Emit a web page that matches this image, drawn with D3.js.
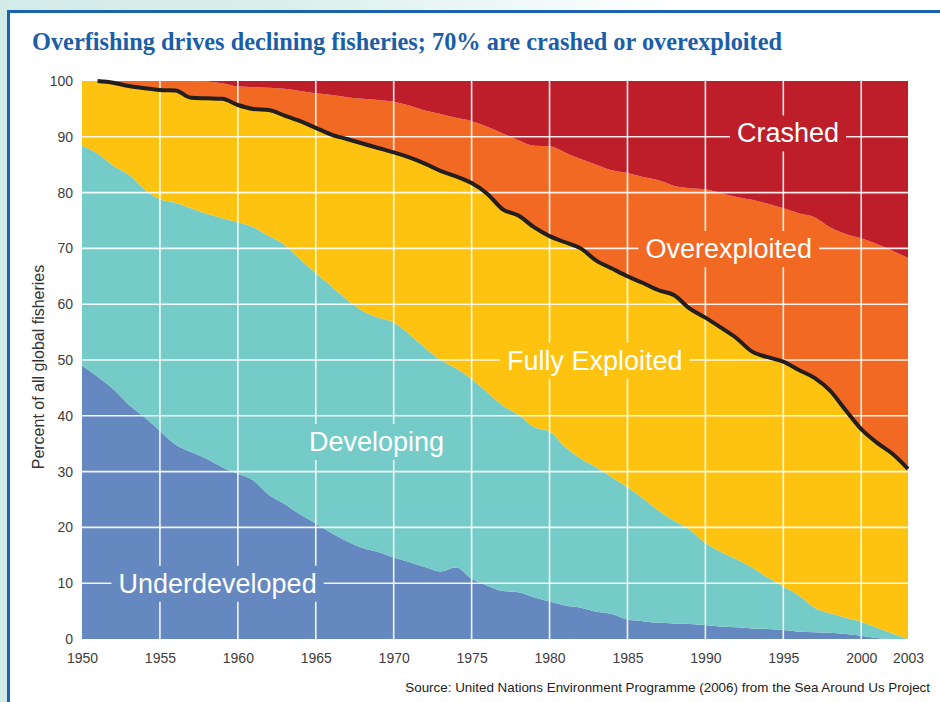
<!DOCTYPE html>
<html>
<head>
<meta charset="utf-8">
<script src="https://cdn.jsdelivr.net/npm/d3@7"></script>
<style>
  body { margin: 0; background: #fff; }
  svg { display: block; }
</style>
</head>
<body>
<div class="chart"></div>
<script>
// values, percent of all global fisheries per year
const years = [1950, 1951, 1952, 1953, 1954, 1955, 1956, 1957, 1958, 1959,
  1960, 1961, 1962, 1963, 1964, 1965, 1966, 1967, 1968, 1969,
  1970, 1971, 1972, 1973, 1974, 1975, 1976, 1977, 1978, 1979,
  1980, 1981, 1982, 1983, 1984, 1985, 1986, 1987, 1988, 1989,
  1990, 1991, 1992, 1993, 1994, 1995, 1996, 1997, 1998, 1999,
  2000, 2001, 2002, 2003]

const underdeveloped = [49, 47.0, 44.8, 42.0, 39.8, 37.3, 34.8, 33.5, 32.3, 30.8,
  29.6, 28.4, 25.8, 24.2, 22.3, 20.7, 19.0, 17.5, 16.3, 15.6,
  14.6, 13.8, 12.9, 12.1, 12.8, 10.8, 9.6, 8.6, 8.4, 7.5,
  6.7, 6.0, 5.6, 4.9, 4.5, 3.5, 3.2, 2.9, 2.8, 2.7,
  2.5, 2.2, 2.1, 1.9, 1.8, 1.6, 1.3, 1.2, 1.1, 0.9,
  0.6, 0.2, 0, 0]

const developing = [39.4, 40.0, 40.0, 41.2, 40.8, 41.5, 43.4, 43.7, 43.9, 44.6,
  45.1, 45.4, 46.4, 46.4, 45.7, 44.9, 44.2, 43.3, 42.5, 42.0,
  42.1, 40.8, 39.3, 37.9, 35.7, 35.8, 34.6, 33.2, 31.8, 30.5,
  30.5, 28.4, 26.7, 25.9, 24.5, 23.7, 22.0, 20.1, 18.4, 16.9,
  14.7, 13.4, 12.2, 10.9, 9.2, 7.8, 6.5, 4.4, 3.5, 2.9,
  2.5, 1.8, 1.0, 0]

const fullyExploited = [11.6, 13.0, 14.9, 15.9, 18.1, 19.6, 20.1, 19.8, 20.7, 21.4,
  21.0, 21.2, 22.6, 23.2, 24.8, 26.0, 27.2, 28.8, 30.0, 30.4,
  30.5, 31.7, 33.0, 33.9, 34.4, 35.1, 35.6, 35.2, 35.7, 35.8,
  35.0, 36.7, 37.7, 37.0, 37.4, 37.8, 38.6, 39.5, 40.4, 39.6,
  40.4, 40.2, 39.6, 38.7, 39.5, 40.3, 40.4, 41.2, 39.9, 37.2,
  34.5, 33.2, 32.2, 30.5]

const overexploited = [0, 0, 0.3, 0.9, 1.3, 1.6, 1.7, 3.0, 3.0, 2.8,
  3.3, 3.9, 4.0, 4.8, 5.4, 6.2, 7.1, 7.5, 8.0, 8.6,
  9.1, 9.3, 9.5, 10.2, 10.5, 11.1, 12.0, 13.6, 13.5, 14.6,
  16.1, 16.1, 16.0, 17.2, 17.6, 18.5, 19.0, 19.7, 19.6, 21.6,
  23.0, 24.1, 25.3, 27.2, 27.5, 27.5, 28.1, 28.8, 29.3, 31.6,
  34.2, 35.6, 36.4, 37.8]

const crashed = [0, 0, 0, 0, 0, 0, 0, 0, 0.1, 0.4,
  1.0, 1.1, 1.2, 1.4, 1.8, 2.2, 2.5, 2.9, 3.2, 3.4,
  3.7, 4.4, 5.3, 5.9, 6.6, 7.2, 8.2, 9.4, 10.6, 11.6,
  11.7, 12.8, 14.0, 15.0, 16.0, 16.5, 17.2, 17.8, 18.8, 19.2,
  19.4, 20.1, 20.8, 21.3, 22.0, 22.8, 23.7, 24.4, 26.2, 27.4,
  28.2, 29.2, 30.4, 31.7]

const keys = ['Underdeveloped', 'Developing', 'Fully Exploited', 'Overexploited', 'Crashed']
const xTicks = [1950, 1955, 1960, 1965, 1970, 1975, 1980, 1985, 1990, 1995, 2000, 2003]
const yTicks = [0, 10, 20, 30, 40, 50, 60, 70, 80, 90, 100]

// where each band name sits: [year, percent]
const labelSpots = {
  'Underdeveloped': [1958.7, 10],
  'Developing': [1968.9, 35.4],
  'Fully Exploited': [1982.9, 50],
  'Overexploited': [1991.5, 70],
  'Crashed': [1995.3, 90.7]
}

const colors = {
  'Underdeveloped': '#6688c0',
  'Developing': '#75cbc8',
  'Fully Exploited': '#fec211',
  'Overexploited': '#f26923',
  'Crashed': '#bd1e2a'
}

const table = years.map((yr, i) => ({
  year: yr,
  'Underdeveloped': underdeveloped[i],
  'Developing': developing[i],
  'Fully Exploited': fullyExploited[i],
  'Overexploited': overexploited[i],
  'Crashed': crashed[i]
}))

const W = 940, H = 702
const plot = { left: 82, right: 908, top: 81, bottom: 639 }

const svg = d3.select('.chart').append('svg')
  .attr('width', W)
  .attr('height', H)

const defs = svg.append('defs')

// frame: pale teal margin, fading out along the top, with a blue rule
const fade = defs.append('linearGradient').attr('id', 'fade')
fade.append('stop').attr('offset', '0').attr('stop-color', '#d3ebe8')
fade.append('stop').attr('offset', '0.3').attr('stop-color', '#d9efec')
fade.append('stop').attr('offset', '0.72').attr('stop-color', '#ffffff')

svg.append('rect').attr('width', W).attr('height', H).attr('fill', '#fff')
svg.append('rect').attr('width', W).attr('height', 11).attr('fill', 'url(#fade)')
svg.append('rect').attr('width', 8).attr('height', H).attr('fill', '#d3ebe8')
svg.append('path')
  .attr('d', `M8.5,${H} V11.5 H${W}`)
  .attr('fill', 'none')
  .attr('stroke', '#1a63ad')
  .attr('stroke-width', 3)

svg.append('text')
  .attr('x', 32)
  .attr('y', 50)
  .attr('textLength', 750)
  .attr('lengthAdjust', 'spacingAndGlyphs')
  .style('font-family', '"Liberation Serif", "DejaVu Serif", serif')
  .style('font-weight', 'bold')
  .style('font-size', '25px')
  .attr('fill', '#1b5ea7')
  .text('Overfishing drives declining fisheries; 70% are crashed or overexploited')

const x = d3.scaleLinear().domain([1950, 2003]).range([plot.left, plot.right])
const y = d3.scaleLinear().domain([0, 100]).range([plot.bottom, plot.top])

const series = d3.stack().keys(keys)(table)

const area = d3.area()
  .x((d) => x(d.data.year))
  .y0((d) => y(d[0]))
  .y1((d) => y(d[1]))
  .curve(d3.curveMonotoneX)

svg.append('g')
  .selectAll('path')
  .data(series)
  .join('path')
  .attr('fill', (d) => colors[d.key])
  .attr('d', area)

// grid, cut open where the band names sit
const mask = defs.append('mask')
  .attr('id', 'gridMask')
  .attr('maskUnits', 'userSpaceOnUse')
  .attr('x', 0).attr('y', 0).attr('width', W).attr('height', H)
mask.append('rect').attr('width', W).attr('height', H).attr('fill', '#fff')

const grid = svg.append('g')
  .attr('mask', 'url(#gridMask)')
  .attr('stroke', '#fff')
  .attr('stroke-opacity', 0.9)
  .attr('stroke-width', 1.6)

grid.selectAll('.hgrid')
  .data(yTicks.filter((v) => v > 0 && v < 100))
  .join('line')
  .attr('class', 'hgrid')
  .attr('x1', plot.left).attr('x2', plot.right)
  .attr('y1', (d) => y(d)).attr('y2', (d) => y(d))

grid.selectAll('.vgrid')
  .data(xTicks.filter((v) => v % 5 === 0 && v > 1950))
  .join('line')
  .attr('class', 'vgrid')
  .attr('x1', (d) => x(d)).attr('x2', (d) => x(d))
  .attr('y1', plot.top).attr('y2', plot.bottom)

// black line along the top of the fully exploited band (it leaves the top edge after 1951)
const fullTop = series[2]
svg.append('path')
  .datum(fullTop)
  .attr('fill', 'none')
  .attr('stroke', '#231f20')
  .attr('stroke-width', 4)
  .attr('stroke-linejoin', 'round')
  .attr('d', d3.line()
    .defined((d) => d.data.year >= 1951)
    .x((d) => x(d.data.year))
    .y((d) => y(d[1]))
    .curve(d3.curveMonotoneX))

const labels = svg.append('g')
  .selectAll('text')
  .data(keys)
  .join('text')
  .attr('x', (k) => x(labelSpots[k][0]))
  .attr('y', (k) => y(labelSpots[k][1]) + 9.6)
  .attr('text-anchor', 'middle')
  .attr('fill', '#fff')
  .style('font-family', '"Liberation Sans", Arial, sans-serif')
  .style('font-size', '27px')
  .text((k) => k)

labels.each(function () {
  const b = this.getBBox()
  mask.append('rect')
    .attr('x', b.x - 7)
    .attr('y', b.y - 3)
    .attr('width', b.width + 14)
    .attr('height', b.height + 6)
    .attr('fill', '#000')
})

// axes
const tickFont = (g) => {
  g.select('.domain').remove()
  g.selectAll('text')
    .attr('fill', '#3d3d3d')
    .style('font-family', '"Liberation Sans", Arial, sans-serif')
    .style('font-size', '14px')
}

svg.append('g')
  .attr('transform', `translate(${plot.left},0)`)
  .call(d3.axisLeft(y).tickValues(yTicks).tickSize(0).tickPadding(9))
  .call(tickFont)

svg.append('g')
  .attr('transform', `translate(0,${plot.bottom})`)
  .call(d3.axisBottom(x).tickValues(xTicks).tickFormat(d3.format('d')).tickSize(0).tickPadding(14))
  .call(tickFont)

svg.append('text')
  .attr('transform', 'translate(44,367) rotate(-90)')
  .attr('text-anchor', 'middle')
  .attr('fill', '#333')
  .style('font-family', '"Liberation Sans", Arial, sans-serif')
  .style('font-size', '16px')
  .text('Percent of all global fisheries')

svg.append('text')
  .attr('x', 930)
  .attr('y', 692)
  .attr('text-anchor', 'end')
  .attr('fill', '#222')
  .style('font-family', '"Liberation Sans", Arial, sans-serif')
  .style('font-size', '13.4px')
  .text('Source: United Nations Environment Programme (2006) from the Sea Around Us Project')
</script>
</body>
</html>
